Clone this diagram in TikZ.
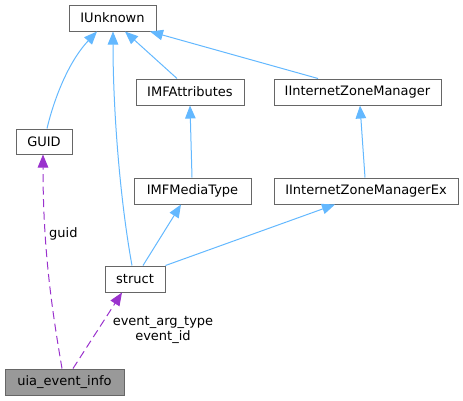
\documentclass[tikz,border=0pt]{standalone}
\usepackage{fontspec}
\setmainfont{DejaVu Sans}
\usetikzlibrary{arrows.meta}
\definecolor{edgeblue}{HTML}{63B8FF}
\definecolor{edgepurple}{HTML}{9A32CD}
\definecolor{boxgray}{HTML}{666666}
\definecolor{fillgray}{HTML}{999999}
\tikzset{
  cls/.style={draw=boxgray, line width=1pt, fill=white, minimum height=26pt, inner sep=0pt, font=\fontsize{13}{15}\selectfont},
  inh/.style={draw=edgeblue, line width=1pt, -{Triangle[length=13pt,width=10.5pt,fill=edgeblue]}},
  use/.style={draw=edgepurple, line width=1pt, dash pattern=on 8pt off 4.5pt, -{Triangle[length=13pt,width=10.5pt,fill=edgepurple]}},
  lbl/.style={font=\fontsize{13}{15}\selectfont, inner sep=0pt, align=center}
}
\begin{document}
\begin{tikzpicture}[x=1pt,y=-1pt]
\useasboundingbox (0,0) rectangle (463,400);
\node[cls, minimum width=87pt] (iunk) at (112.5,18) {IUnknown};
\node[cls, minimum width=108pt] (imfa) at (190,92) {IMFAttributes};
\node[cls, minimum width=167pt] (izm) at (357.5,92) {IInternetZoneManager};
\node[cls, minimum width=56pt, minimum height=25pt] (guid) at (44,141.5) {GUID};
\node[cls, minimum width=117pt] (imfm) at (192.5,191) {IMFMediaType};
\node[cls, minimum width=184pt] (izmex) at (366,191) {IInternetZoneManagerEx};
\node[cls, minimum width=60pt] (struct) at (135,279) {struct};
\node[cls, minimum width=119pt, fill=fillgray] (uia) at (64.5,382) {uia\_event\_info};

\draw[inh] ([xshift=3pt]guid.north) .. controls (55,95) and (70,60) .. ([xshift=-15.5pt]iunk.south);
\draw[inh] ([xshift=-3pt]struct.north) .. controls (120,200) and (113,110) .. ([xshift=0.5pt]iunk.south);
\draw[inh] ([xshift=-13pt]imfa.north) -- ([xshift=12.5pt]iunk.south);
\draw[inh] ([xshift=-39.5pt]izm.north) -- ([xshift=-6.5pt]iunk.south east);
\draw[inh] ([xshift=-0.5pt]imfm.north) -- (imfa.south);
\draw[inh] ([xshift=-1pt]izmex.north) -- ([xshift=2.5pt]izm.south);
\draw[inh] ([xshift=8pt]struct.north) -- ([xshift=-11.5pt]imfm.south);
\draw[inh] (struct.north east) -- ([xshift=-31pt]izmex.south);

\draw[use] ([xshift=-2.5pt]uia.north) .. controls (52,310) and (43,250) .. ([xshift=-1pt]guid.south);
\draw[use] ([xshift=8.5pt]uia.north) -- ([xshift=-13pt]struct.south);
\node[lbl, anchor=west] (lguid) at (49,234) {guid};
\node[lbl] (lev) at (163,330) {event\_arg\_type\\event\_id};
\end{tikzpicture}
\end{document}
